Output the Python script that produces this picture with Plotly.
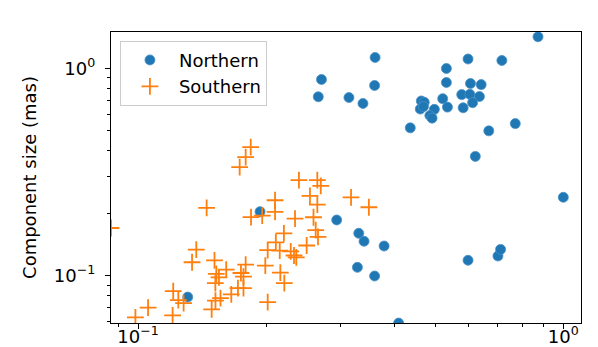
import plotly.graph_objects as go

# Northern components (x, size in mas)
north_x = [0.872, 0.361, 0.597, 0.717, 0.270, 0.531, 0.360, 0.531, 0.605, 0.641,
           0.2654, 0.3133, 0.338, 0.4636, 0.471, 0.5205, 0.577, 0.603, 0.635, 0.612,
           0.461, 0.469, 0.4975, 0.534, 0.5815, 0.4856, 0.4914, 0.4367, 0.668, 0.771,
           0.621, 1.0, 0.2932, 0.3304, 0.340, 0.379, 0.328, 0.360, 0.597, 0.702,
           0.712, 0.410, 0.1936, 0.1309]
north_y = [1.422, 1.130, 1.111, 1.093, 0.885, 1.0, 0.828, 0.856, 0.846, 0.836,
           0.730, 0.724, 0.678, 0.697, 0.687, 0.715, 0.748, 0.750, 0.732, 0.684,
           0.637, 0.655, 0.635, 0.651, 0.646, 0.593, 0.576, 0.517, 0.500, 0.542,
           0.3766, 0.239, 0.1858, 0.1602, 0.1466, 0.1391, 0.1098, 0.0997, 0.1187, 0.1245,
           0.134, 0.0591, 0.2038, 0.0789]

# Southern components
south_x = [0.1841, 0.1791, 0.1734, 0.239, 0.264, 0.269, 0.2537, 0.3169, 0.210, 0.264,
           0.145, 0.349, 0.210, 0.1844, 0.1959, 0.234, 0.2586, 0.0864, 0.2617, 0.265,
           0.2203, 0.2492, 0.2109, 0.1371, 0.134, 0.2018, 0.2154, 0.2286, 0.2327, 0.2356,
           0.1513, 0.1791, 0.1992, 0.1612, 0.1746, 0.1528, 0.177, 0.155, 0.2161, 0.152,
           0.2208, 0.1718, 0.177, 0.121, 0.1657, 0.1563, 0.1521, 0.1244, 0.128, 0.1056,
           0.149, 0.2018, 0.1206, 0.0986]
south_y = [0.4172, 0.3732, 0.334, 0.289, 0.289, 0.2713, 0.2427, 0.239, 0.2313, 0.2203,
           0.2124, 0.214, 0.2031, 0.1917, 0.195, 0.1886, 0.1915, 0.170, 0.166, 0.1541,
           0.1602, 0.1399, 0.145, 0.1338, 0.1162, 0.1328, 0.1321, 0.1312, 0.1252, 0.1227,
           0.1187, 0.1132, 0.112, 0.1071, 0.1031, 0.1021, 0.0991, 0.0982, 0.1036, 0.0922,
           0.0922, 0.0872, 0.0872, 0.0843, 0.0813, 0.078, 0.0759, 0.0763, 0.0738, 0.0702,
           0.0689, 0.0746, 0.0644, 0.0630]

series_names = ["Northern", "Southern"]
y_title = "Component size (mas)"

x_major = [0.1, 1.0]
x_major_text = ["10<sup>−1</sup>", "10<sup>0</sup>"]
x_minor = [0.09, 0.2, 0.3, 0.4, 0.5, 0.6, 0.7, 0.8, 0.9]
y_major = [0.1, 1.0]
y_major_text = ["10<sup>−1</sup>", "10<sup>0</sup>"]
y_minor = [0.06, 0.07, 0.08, 0.09, 0.2, 0.3, 0.4, 0.5, 0.6, 0.7, 0.8, 0.9]

x_range = [-1.0635, 0.0416]
y_range = [-1.228, 0.176]

FONT = "DejaVu Sans"
FS = 18

fig = go.Figure()
fig.add_trace(go.Scatter(
    x=north_x, y=north_y, mode="markers", name=series_names[0],
    marker=dict(symbol="circle", size=10, color="#1f77b4",
                line=dict(width=0.8, color="#4a90c6")),
))
fig.add_trace(go.Scatter(
    x=south_x, y=south_y, mode="markers", name=series_names[1],
    marker=dict(symbol="cross-thin", size=12,
                line=dict(width=1.8, color="#ff7f0e"), color="#ff7f0e"),
))

axis_common = dict(
    type="log", showgrid=False, zeroline=False, showline=True, mirror=True,
    linecolor="black", linewidth=1.3, ticks="outside", ticklen=5, tickwidth=1.1,
    tickcolor="black", tickfont=dict(family=FONT, size=FS, color="black"),
    automargin=False,
)

fig.update_xaxes(
    **axis_common, range=x_range, tickvals=x_major, ticktext=x_major_text,
    ticklabelstandoff=-8,
    minor=dict(tickvals=x_minor, ticks="outside", ticklen=3, tickwidth=0.9,
               tickcolor="black", showgrid=False),
)
fig.update_yaxes(
    **axis_common, range=y_range, tickvals=y_major, ticktext=y_major_text,
    ticklabelstandoff=6,
    minor=dict(tickvals=y_minor, ticks="outside", ticklen=3, tickwidth=0.9,
               tickcolor="black", showgrid=False),
    title=dict(text=y_title, font=dict(family=FONT, size=FS, color="black"),
               standoff=12),
)

fig.update_layout(
    width=598, height=347,
    margin=dict(l=103, r=25, t=24, b=32),
    paper_bgcolor="white", plot_bgcolor="white",
    font=dict(family=FONT, size=FS, color="black"),
    showlegend=True,
    legend=dict(x=0.019, y=0.97, xanchor="left", yanchor="top",
                bgcolor="rgba(255,255,255,0.8)", bordercolor="#cccccc",
                borderwidth=1, font=dict(family=FONT, size=FS, color="black"),
                itemwidth=48, tracegroupgap=2),
)

fig.write_html("out.html")
